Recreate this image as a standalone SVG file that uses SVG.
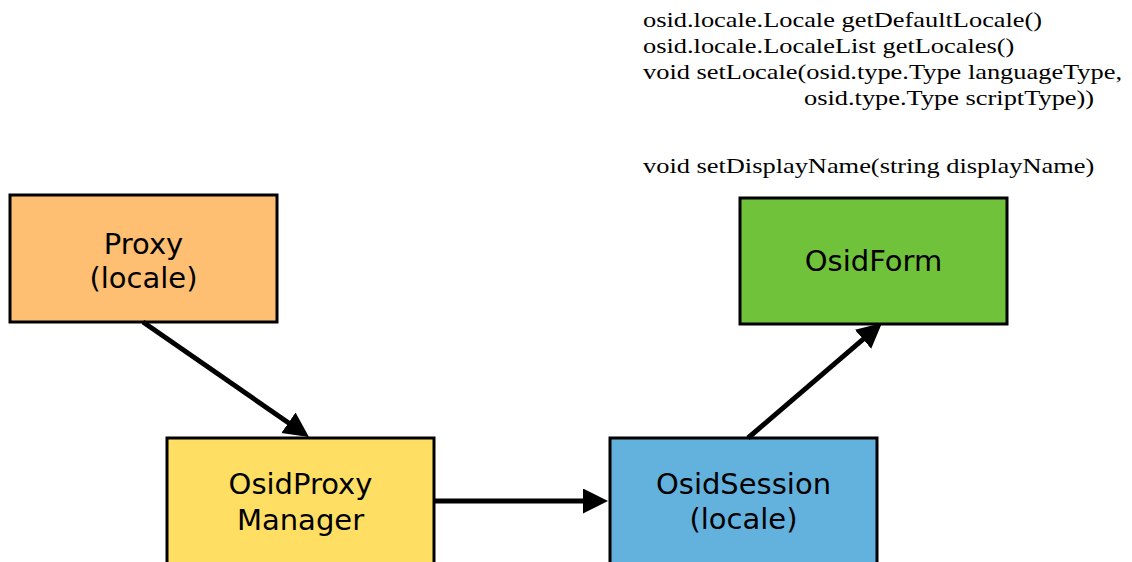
<svg xmlns="http://www.w3.org/2000/svg" width="1132" height="562" viewBox="0 0 1132 562">
<style>
.box{stroke:#000;stroke-width:3}
.lbl{font-family:"DejaVu Sans",Verdana,sans-serif;font-size:29px;fill:#000;text-anchor:middle}
.note{font-family:"Liberation Serif","Times New Roman",serif;font-size:22px;fill:#000}
.conn{stroke:#000;stroke-width:5;fill:none;marker-end:url(#arrow)}
</style>
<defs>
<marker id="arrow" markerUnits="userSpaceOnUse" markerWidth="26" markerHeight="26" refX="3" refY="12.5" orient="auto">
<path d="M0,0 L25,12.5 L0,25 Z" fill="#000"/>
</marker>
</defs>
<rect width="1132" height="562" fill="#fff"/>
<g id="notes" transform="translate(643 0) scale(1.2 1)">
<text class="note" x="0" y="27">osid.locale.Locale getDefaultLocale()</text>
<text class="note" x="0" y="53">osid.locale.LocaleList getLocales()</text>
<text class="note" x="0" y="79">void setLocale(osid.type.Type languageType,</text>
<text class="note" x="134.2" y="105">osid.type.Type scriptType))</text>
<text class="note" x="0" y="173">void setDisplayName(string displayName)</text>
</g>
<g id="proxy">
<rect class="box" x="10" y="195" width="267" height="127" fill="#FFBF72"/>
<text class="lbl" x="143.5" y="254">Proxy</text>
<text class="lbl" x="143.5" y="288">(locale)</text>
</g>
<g id="osidproxymanager">
<rect class="box" x="167" y="438" width="267" height="127" fill="#FFDF63"/>
<text class="lbl" x="300.5" y="494">OsidProxy</text>
<text class="lbl" x="300.5" y="530">Manager</text>
</g>
<g id="osidsession">
<rect class="box" x="610" y="438" width="267" height="127" fill="#63B2DD"/>
<text class="lbl" x="743.5" y="494">OsidSession</text>
<text class="lbl" x="743.5" y="529">(locale)</text>
</g>
<g id="osidform">
<rect class="box" x="740" y="198" width="267" height="126" fill="#70C23A"/>
<text class="lbl" x="873.5" y="271">OsidForm</text>
</g>
<g id="connectors">
<line class="conn" x1="143" y1="322" x2="290.9" y2="424.5"/>
<line class="conn" x1="434" y1="501" x2="586" y2="501"/>
<line class="conn" x1="748" y1="438" x2="865.3" y2="337.3"/>
</g>
</svg>
